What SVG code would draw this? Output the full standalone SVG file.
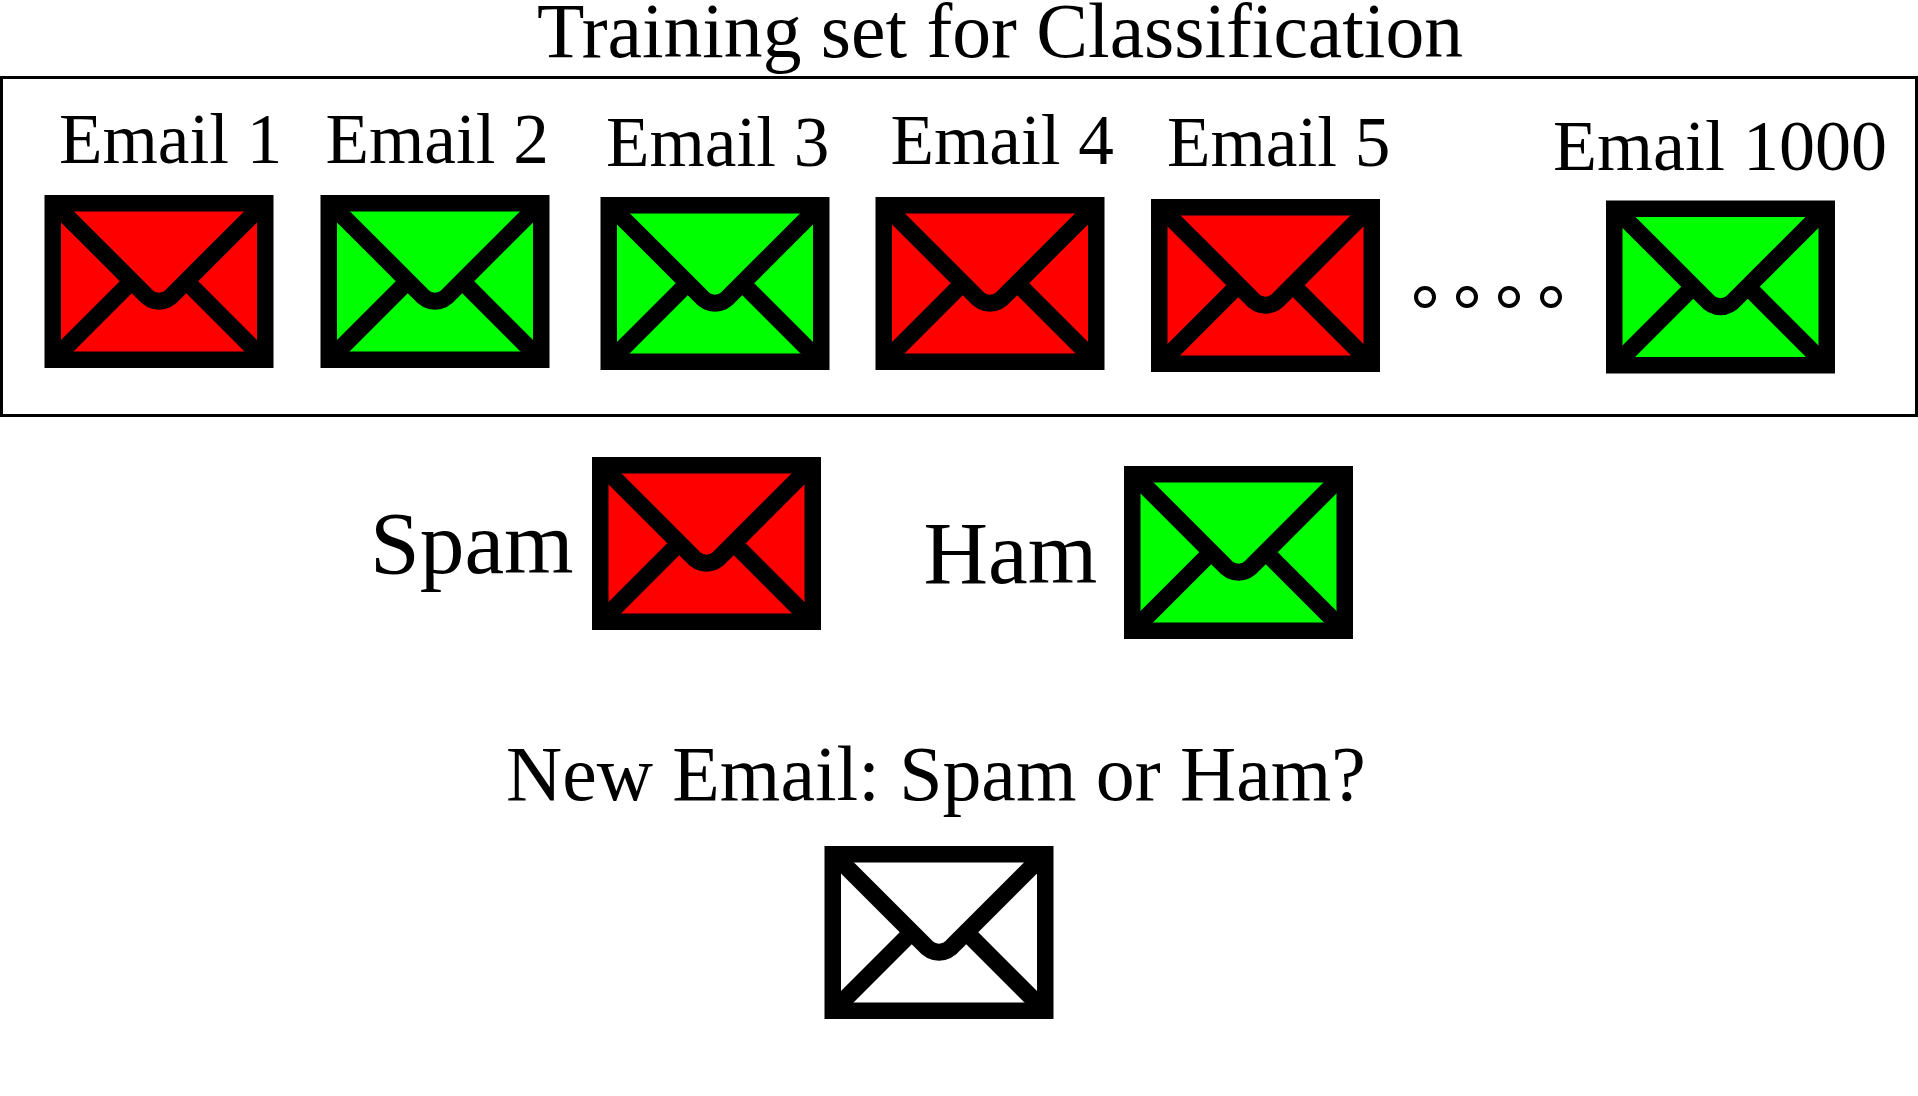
<svg xmlns="http://www.w3.org/2000/svg" width="1918" height="1096" viewBox="0 0 1918 1096">
<style>
text{font-family:"Liberation Serif","Times New Roman",serif;fill:#000}
.t{font-size:77.6px}.l{font-size:71.2px}.b{font-size:89.4px}
.f{fill:none;stroke:#000;stroke-width:17}
.spam{fill:#f00}.ham{fill:#0f0}.new{fill:#fff}
</style>
<defs>
<g id="env">
<rect x="8.25" y="8.25" width="212.5" height="156.5" fill="inherit" stroke="#000" stroke-width="16.5"/>
<path class="f" d="M14,12.900L99,97.900C108,109 121,109 130,97.900L215,12.900"/>
<path class="f" d="M15,158.500L90,83.500M214,158.500L139,83.500"/>
</g>
</defs>
<rect x="1.500" y="77.500" width="1915" height="338" fill="none" stroke="#000" stroke-width="3"/>
<text class="t" x="537" y="57">Training set for Classification</text>
<g id="email1"><use href="#env" x="44.500" y="195" class="spam"/><text class="l" x="59" y="163">Email 1</text></g>
<g id="email2"><use href="#env" x="320.500" y="195" class="ham"/><text class="l" x="325.500" y="163">Email 2</text></g>
<g id="email3"><use href="#env" x="600.500" y="197" class="ham"/><text class="l" x="606" y="166">Email 3</text></g>
<g id="email4"><use href="#env" x="875.500" y="197" class="spam"/><text class="l" x="890.500" y="164">Email 4</text></g>
<g id="email5"><use href="#env" x="1151" y="199" class="spam"/><text class="l" x="1167" y="166">Email 5</text></g>
<g id="dots" fill="none" stroke="#000" stroke-width="4"><circle cx="1425" cy="297" r="9"/><circle cx="1467" cy="297" r="9"/><circle cx="1509" cy="297" r="9"/><circle cx="1551" cy="297" r="9"/></g>
<g id="email1000"><use href="#env" x="1606" y="200.500" class="ham"/><text x="1553" y="170" font-size="72">Email 1000</text></g>
<g id="spam"><use href="#env" x="592" y="457" class="spam"/><text class="b" x="370" y="573">Spam</text></g>
<g id="ham"><use href="#env" x="1124" y="466" class="ham"/><text class="b" x="923.500" y="583">Ham</text></g>
<g id="new"><use href="#env" x="824.500" y="846" class="new"/><text x="506" y="800" font-size="77.8">New Email: Spam or Ham?</text></g>
</svg>
